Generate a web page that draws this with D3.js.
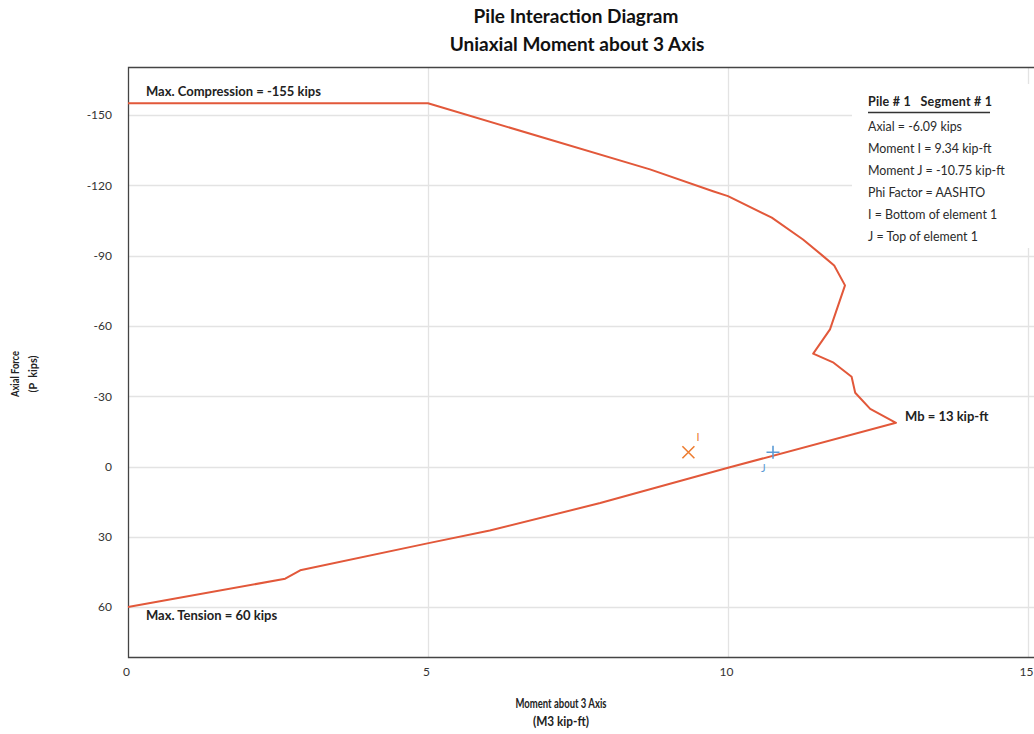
<!DOCTYPE html>
<html>
<head>
<meta charset="utf-8">
<script src="https://cdn.jsdelivr.net/npm/d3@7"></script>
<style>
  html, body { margin: 0; padding: 0; background: #fff; }
  svg { display: block; font-family: Lato, "Noto Sans", sans-serif; }
</style>
</head>
<body>
<svg id="chart" width="1034" height="734"></svg>
<script>
// Interaction curve: moment (kip-ft) vs axial force (kips, compression negative)
const curveMoment = [0, 5.0, 8.7, 9.75, 10.0, 10.73, 11.25, 11.57, 11.77, 11.95, 11.7, 11.42, 11.76, 12.06, 12.12, 12.37, 12.8, 10.0, 7.87, 6.03, 5.03, 2.87, 2.62, 0];
const curveAxial  = [-155, -155, -126.8, -117.5, -115.4, -106.2, -96.9, -90.1, -85.8, -77.3, -58.5, -48.2, -44.3, -38.3, -31.5, -24.6, -18.65, 0.55, 15.6, 27.3, 32.6, 44.3, 47.9, 60];

const maxCompression = -155;
const maxTension = 60;
const mbValue = 12.8;
const mbAxial = -18.65;

// Segment forces
const axialForce = -6.09;
const momentI = 9.34;
const momentJ = -10.75;

const xTicks = [0, 5, 10, 15];
const yTicks = [-150, -120, -90, -60, -30, 0, 30, 60];

const legendLines = [
  "Axial = " + axialForce + " kips",
  "Moment I = " + momentI + " kip-ft",
  "Moment J = " + momentJ + " kip-ft",
  "Phi Factor = AASHTO",
  "I = Bottom of element 1",
  "J = Top of element 1"
];

const svg = d3.select("#chart");
const plotLeft = 128, plotRight = 1034, plotTop = 67, plotBottom = 657;

const x = d3.scaleLinear().domain([0, 15.1]).range([plotLeft, plotRight]);
const y = d3.scaleLinear().domain([-170.5, 81.3]).range([plotTop, plotBottom]);

const ink = "#222";
const curveColor = "#e2583a";

// Titles
svg.append("text").attr("x", 576).attr("y", 23).attr("text-anchor", "middle")
  .attr("font-weight", "bold").attr("font-size", 19).attr("fill", "#111")
  .text("Pile Interaction Diagram");
svg.append("text").attr("x", 577).attr("y", 51).attr("text-anchor", "middle")
  .attr("font-weight", "bold").attr("font-size", 19).attr("fill", "#111")
  .text("Uniaxial Moment about 3 Axis");

// Grid
const grid = svg.append("g").attr("stroke", "#e3e3e3").attr("stroke-width", 1.3);
grid.selectAll("line.h").data(yTicks).join("line").attr("class", "h")
  .attr("x1", plotLeft).attr("x2", plotRight)
  .attr("y1", d => Math.round(y(d)) + 0.5).attr("y2", d => Math.round(y(d)) + 0.5);
grid.selectAll("line.v").data(xTicks.filter(d => d > 0)).join("line").attr("class", "v")
  .attr("y1", plotTop).attr("y2", plotBottom)
  .attr("x1", d => Math.round(x(d)) + 0.5).attr("x2", d => Math.round(x(d)) + 0.5);

// Axes
const yAxis = d3.axisLeft(y).tickValues(yTicks).tickFormat(d => String(d)).tickSize(0).tickPadding(16);
const gy = svg.append("g").attr("transform", `translate(${plotLeft},0)`).call(yAxis);
const xAxis = d3.axisBottom(x).tickValues(xTicks).tickFormat(d => String(d)).tickSize(0).tickPadding(10);
const gx = svg.append("g").attr("transform", `translate(0,${plotBottom})`).call(xAxis);
[gx, gy].forEach(g => {
  g.select(".domain").remove();
  g.selectAll("text").attr("font-size", 12).attr("fill", "#333")
    .attr("font-family", "Lato, 'Noto Sans', sans-serif");
});
gx.selectAll("text").attr("dx", -2);

// Plot frame (left, bottom, top)
svg.append("path")
  .attr("d", `M${plotRight},${plotTop + 0.5}H${plotLeft + 0.5}V${plotBottom + 0.5}H${plotRight}`)
  .attr("fill", "none").attr("stroke", "#444").attr("stroke-width", 1.3);

// Axis titles (condensed bold)
const yTitle = svg.append("g").attr("transform", "translate(19,374) rotate(-90)");
yTitle.append("text").attr("text-anchor", "middle").attr("font-weight", "bold")
  .attr("font-size", 11.5).attr("fill", ink)
  .attr("textLength", 46).attr("lengthAdjust", "spacingAndGlyphs").text("Axial Force");
yTitle.append("text").attr("y", 18).attr("text-anchor", "middle").attr("font-weight", "bold")
  .attr("font-size", 11.5).attr("fill", ink).attr("xml:space", "preserve")
  .attr("textLength", 37).attr("lengthAdjust", "spacingAndGlyphs").text("(P  kips)");

svg.append("text").attr("x", 561).attr("y", 708).attr("text-anchor", "middle")
  .attr("font-weight", "bold").attr("font-size", 12.5).attr("fill", ink)
  .attr("textLength", 91).attr("lengthAdjust", "spacingAndGlyphs").text("Moment about 3 Axis");
svg.append("text").attr("x", 561).attr("y", 726).attr("text-anchor", "middle")
  .attr("font-weight", "bold").attr("font-size", 12.5).attr("fill", ink)
  .attr("textLength", 56).attr("lengthAdjust", "spacingAndGlyphs").text("(M3 kip-ft)");

// Legend panel
svg.append("rect").attr("x", 852).attr("y", 84).attr("width", 182).attr("height", 164).attr("fill", "#fff");
svg.append("text").attr("x", 868).attr("y", 106).attr("font-weight", "bold").attr("font-size", 12.5)
  .attr("fill", ink).attr("xml:space", "preserve")
  .attr("textLength", 124).attr("lengthAdjust", "spacing").text("Pile # 1   Segment # 1");
svg.append("line").attr("x1", 868).attr("x2", 990).attr("y1", 112.5).attr("y2", 112.5)
  .attr("stroke", "#333").attr("stroke-width", 1.3);
svg.selectAll("text.legend").data(legendLines).join("text").attr("class", "legend")
  .attr("x", 868).attr("y", (d, i) => 131 + i * 22)
  .attr("font-size", 12.4).attr("fill", "#2a2a2a").text(d => d);

// Interaction curve
const pts = curveMoment.map((m, i) => [m, curveAxial[i]]);
svg.append("path").datum(pts)
  .attr("d", d3.line().x(d => x(d[0])).y(d => y(d[1])))
  .attr("fill", "none").attr("stroke", curveColor).attr("stroke-width", 2)
  .attr("stroke-linejoin", "round");

// Curve annotations
svg.append("text").attr("x", 146).attr("y", y(maxCompression) - 7)
  .attr("font-weight", "bold").attr("font-size", 13).attr("fill", ink)
  .text("Max. Compression = " + maxCompression + " kips");
svg.append("text").attr("x", 146).attr("y", y(maxTension) + 12.5)
  .attr("font-weight", "bold").attr("font-size", 13).attr("fill", ink)
  .text("Max. Tension = " + maxTension + " kips");
svg.append("text").attr("x", x(mbValue) + 9).attr("y", y(mbAxial) - 1.5)
  .attr("font-weight", "bold").attr("font-size", 13).attr("fill", ink)
  .text("Mb = " + Math.round(mbValue) + " kip-ft");

// Segment end markers
const iX = x(momentI), iY = y(axialForce);
const jX = x(Math.abs(momentJ)), jY = y(axialForce);
const s = 6;
svg.append("path")
  .attr("d", `M${iX - s},${iY - s}L${iX + s},${iY + s}M${iX - s},${iY + s}L${iX + s},${iY - s}`)
  .attr("stroke", "#ed7d31").attr("stroke-width", 1.6);
svg.append("text").attr("x", iX + 8).attr("y", iY - 11).attr("font-size", 11)
  .attr("fill", "#ed7d31").text("I");
svg.append("path")
  .attr("d", `M${jX - 6.5},${jY}L${jX + 6.5},${jY}M${jX},${jY - 6.5}L${jX},${jY + 6.5}`)
  .attr("stroke", "#5b9bd5").attr("stroke-width", 1.6);
svg.append("text").attr("x", jX - 12).attr("y", jY + 20).attr("font-size", 11)
  .attr("fill", "#5b9bd5").text("J");
</script>
</body>
</html>
